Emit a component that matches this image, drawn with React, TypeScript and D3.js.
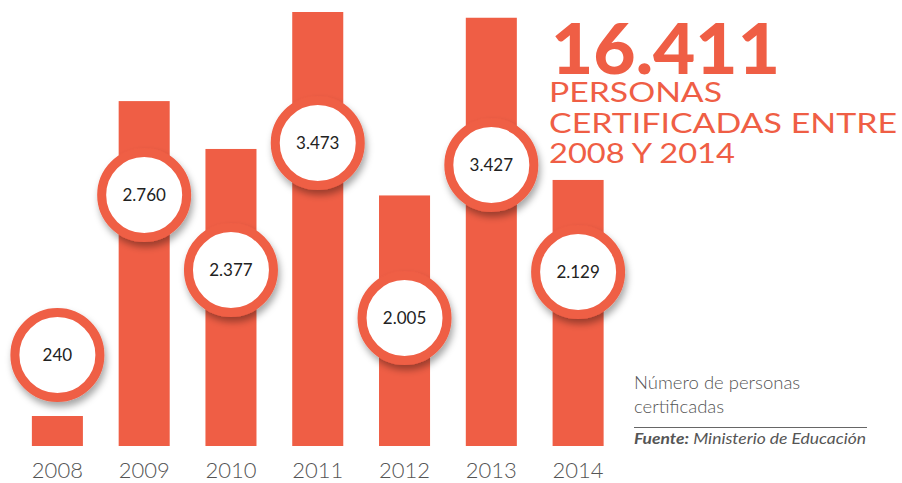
import React, {useEffect, useRef} from 'react'
import * as d3 from 'd3'

const years = ['2008', '2009', '2010', '2011', '2012', '2013', '2014']
const certified = [240, 2760, 2377, 3473, 2005, 3427, 2129]
const valueLabels = ['240', '2.760', '2.377', '3.473', '2.005', '3.427', '2.129']
// height (in persons) where each white bubble sits
const bubbleLevel = [728, 2008, 1408, 2424, 1024, 2248, 1392]
const totalLabel = '16.411'
const titleLines = ['PERSONAS', 'CERTIFICADAS ENTRE', '2008 Y 2014']
const titleWidths = [173, 348, 186]
const legendLines = ['Número de personas', 'certificadas']

const RED = '#ef5e45'
const GRAY = '#555555'
const FONT = 'Lato, "Open Sans", sans-serif'

const App = () => {
  const ref = useRef(null)
  const width = 902
  const height = 483

  useEffect(() => {
    const svg = d3.select(ref.current)
    svg.selectAll('*').remove()

    const x = d3.scaleBand()
      .domain(years)
      .range([14, 621.5])
      .paddingInner(0.412)
      .paddingOuter(0.206)

    const y = d3.scaleLinear()
      .domain([0, d3.max(certified)])
      .range([446, 12])

    const defs = svg.append('defs')
    const f = defs.append('filter')
      .attr('id', 'shadow')
      .attr('x', '-30%').attr('y', '-30%')
      .attr('width', '160%').attr('height', '160%')
    f.append('feDropShadow')
      .attr('dx', 2).attr('dy', 5)
      .attr('stdDeviation', 3.5)
      .attr('flood-color', '#000')
      .attr('flood-opacity', 0.35)

    svg.append('g')
      .selectAll('rect')
      .data(certified)
      .enter()
      .append('rect')
      .attr('x', (d, i) => x(years[i]))
      .attr('y', d => y(d))
      .attr('width', x.bandwidth())
      .attr('height', d => y(0) - y(d))
      .attr('fill', RED)

    // year labels
    svg.append('g')
      .selectAll('text')
      .data(years)
      .enter()
      .append('text')
      .attr('x', d => x(d) + x.bandwidth() / 2)
      .attr('y', 478)
      .attr('text-anchor', 'middle')
      .attr('font-family', FONT)
      .attr('font-weight', 300)
      .attr('font-size', 22)
      .attr('fill', GRAY)
      .text(d => d)

    const bubbles = svg.append('g')
      .selectAll('g')
      .data(bubbleLevel)
      .enter()
      .append('g')
      .attr('transform', (d, i) => 'translate(' + (x(years[i]) + x.bandwidth() / 2) + ',' + y(d) + ')')

    bubbles.append('circle')
      .attr('r', 42.5)
      .attr('fill', '#fff')
      .attr('stroke', RED)
      .attr('stroke-width', 9)
      .attr('filter', 'url(#shadow)')

    bubbles.append('text')
      .attr('y', 6)
      .attr('text-anchor', 'middle')
      .attr('font-family', FONT)
      .attr('font-size', 17)
      .attr('fill', '#222')
      .text((d, i) => valueLabels[i])

    // headline
    svg.append('text')
      .attr('x', 551)
      .attr('y', 74)
      .attr('font-family', FONT)
      .attr('font-weight', 900)
      .attr('font-size', 71)
      .attr('fill', RED)
      .attr('textLength', 229)
      .attr('lengthAdjust', 'spacingAndGlyphs')
      .text(totalLabel)

    svg.append('g')
      .selectAll('text')
      .data(titleLines)
      .enter()
      .append('text')
      .attr('x', 549)
      .attr('y', (d, i) => 102 + i * 30.5)
      .attr('font-family', FONT)
      .attr('font-size', 27)
      .attr('fill', RED)
      .attr('textLength', (d, i) => titleWidths[i])
      .attr('lengthAdjust', 'spacingAndGlyphs')
      .text(d => d)

    // legend
    svg.append('g')
      .selectAll('text')
      .data(legendLines)
      .enter()
      .append('text')
      .attr('x', 634)
      .attr('y', (d, i) => 389 + i * 24)
      .attr('font-family', FONT)
      .attr('font-weight', 300)
      .attr('font-size', 18.5)
      .attr('fill', GRAY)
      .text(d => d)

    svg.append('line')
      .attr('x1', 634).attr('x2', 867)
      .attr('y1', 427.5).attr('y2', 427.5)
      .attr('stroke', '#666')
      .attr('stroke-width', 1)

    const src = svg.append('text')
      .attr('x', 634)
      .attr('y', 444)
      .attr('font-family', FONT)
      .attr('font-size', 15)
      .attr('font-style', 'italic')
      .attr('fill', GRAY)
      .attr('textLength', 232)
      .attr('lengthAdjust', 'spacingAndGlyphs')
    src.append('tspan').attr('font-weight', 700).text('Fuente:')
    src.append('tspan').text(' Ministerio de Educación')

    return () => { svg.selectAll('*').remove() }
  }, [])

  return (
    <div style={{position: 'absolute', left: 0, top: 0}}>
      <svg ref={ref} width={width} height={height} style={{display: 'block', background: '#fff'}}>
      </svg>
    </div>
  )
}

export default App
